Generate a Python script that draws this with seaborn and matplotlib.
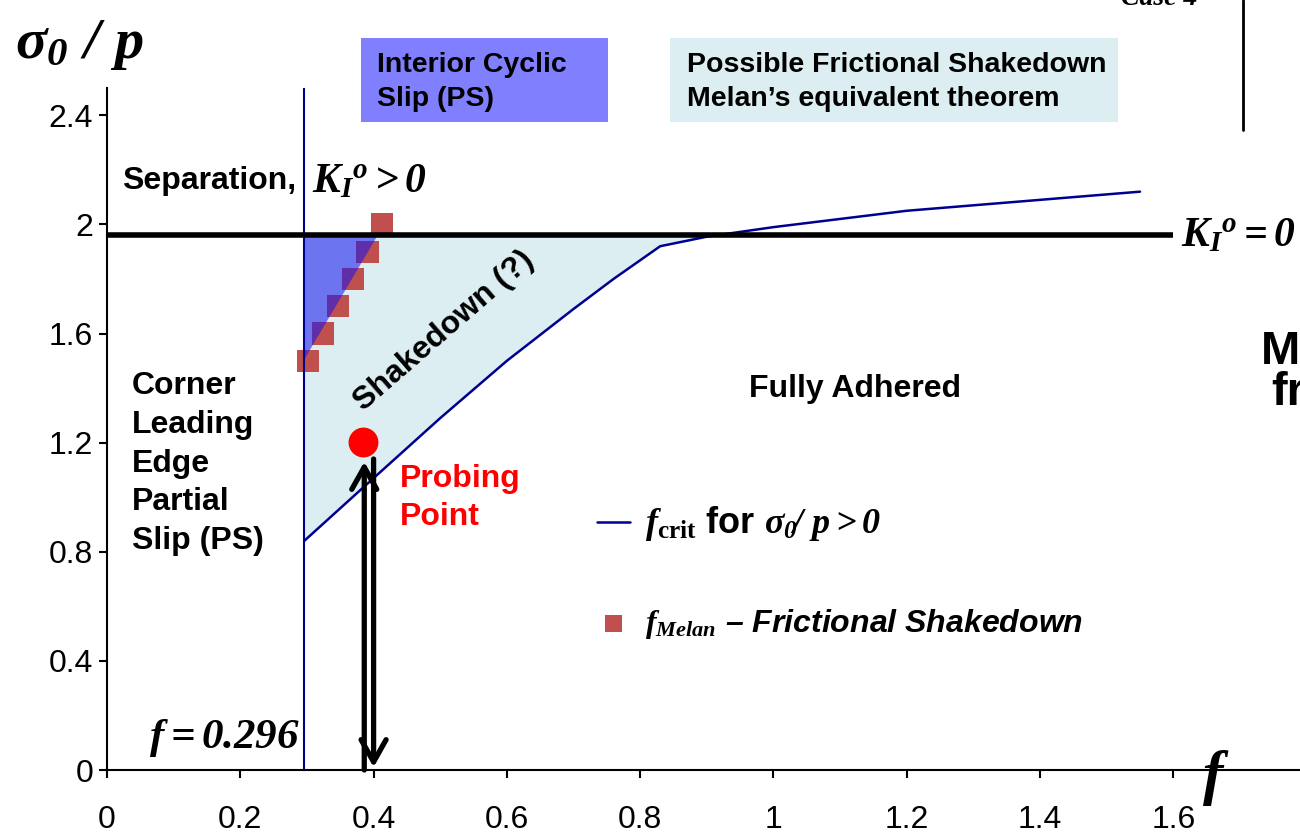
import numpy as np
import pandas as pd
import matplotlib
matplotlib.use("Agg")
import matplotlib.pyplot as plt
from matplotlib.patches import Rectangle
from matplotlib.lines import Line2D
import seaborn as sns

# ---------------------------------------------------------------
# data
# ---------------------------------------------------------------
crit_f = [0.296, 0.40, 0.50, 0.60, 0.70, 0.76, 0.83, 0.90, 1.00, 1.20, 1.40, 1.55]
crit_s = [0.84, 1.07, 1.29, 1.50, 1.69, 1.80, 1.92, 1.955, 1.99, 2.05, 2.09, 2.12]

melan_f = [0.302, 0.324, 0.347, 0.369, 0.391, 0.413]
melan_s = [1.5, 1.6, 1.7, 1.8, 1.9, 2.0]

# interior cyclic slip wedge (bottom vertex -> top of K_I=0 line)
wedge_s = [1.51, 1.96]
wedge_f = [0.296, 0.405]

f_min = 0.296          # f = 0.296 vertical line
k_zero = 1.96          # K_I^o = 0 line
probe_f, probe_s = 0.384, 1.204

xticks = [0, 0.2, 0.4, 0.6, 0.8, 1.0, 1.2, 1.4, 1.6]
xtick_labels = ["0", "0.2", "0.4", "0.6", "0.8", "1", "1.2", "1.4", "1.6"]
yticks = [0, 0.4, 0.8, 1.2, 1.6, 2.0, 2.4]
ytick_labels = ["0", "0.4", "0.8", "1.2", "1.6", "2", "2.4"]

crit_df = pd.DataFrame({"f": crit_f, "s": crit_s})
melan_df = pd.DataFrame({"f": melan_f, "s": melan_s})

# ---------------------------------------------------------------
# style
# ---------------------------------------------------------------
sns.set_theme(style="ticks")
plt.rcParams["font.family"] = ["Liberation Sans", "DejaVu Sans"]
plt.rcParams["text.color"] = "black"
plt.rcParams["xtick.color"] = "black"
plt.rcParams["ytick.color"] = "black"
plt.rcParams["mathtext.fontset"] = "custom"
plt.rcParams["mathtext.rm"] = "Liberation Serif:bold:italic"
plt.rcParams["mathtext.it"] = "Liberation Serif:bold:italic"
plt.rcParams["mathtext.bf"] = "Liberation Serif:bold"

navy = "#000090"
sq_red = "#C0504D"
light = "#DCEEF1"
slip_blue = "#8080FF"

fig = plt.figure(figsize=(13, 8.33), dpi=100)
ax = fig.add_axes([107 / 1300, 1 - 770 / 833, 1 - 107 / 1300, (770 - 88) / 833])

# shaded regions
ax.fill_between(crit_df["f"], crit_df["s"], k_zero,
                where=crit_df["s"] <= k_zero, interpolate=True,
                color=light, lw=0, zorder=1)
sns.scatterplot(data=melan_df, x="f", y="s", marker="s", s=256, color=sq_red,
                edgecolor="none", ax=ax, zorder=2,
                label=r"$f_{Melan}$ – Frictional Shakedown")
ax.fill_betweenx(wedge_s, [f_min, f_min], wedge_f, color="#1414F0",
                 alpha=0.56, lw=0, zorder=3)

# lines
sns.lineplot(data=crit_df, x="f", y="s", color=navy, lw=1.8, ax=ax, zorder=4,
             label=r"$f_{\mathbf{crit}}$ for $\sigma_0\!/\ p > 0$")
ax.axvline(f_min, color=navy, lw=1.5, zorder=4)
ax.hlines(k_zero, 0, 1.6, color="black", lw=4, zorder=5)

# probing point and arrows
ax.scatter([probe_f], [probe_s], s=420, color="#FF0000", zorder=6)
arrow_kw = dict(arrowstyle="->,head_length=0.8,head_width=0.45", lw=3.8,
                color="black", shrinkA=0, shrinkB=0, mutation_scale=20)
ax.annotate("", xy=(0.386, 1.13), xytext=(0.386, 0.0), arrowprops=arrow_kw, zorder=6)
ax.annotate("", xy=(0.400, 0.01), xytext=(0.400, 1.14), arrowprops=arrow_kw, zorder=6)

# axes
ax.set_xlim(0, 1.79)
ax.set_ylim(0, 2.5)
ax.set_xticks(xticks)
ax.set_xticklabels(xtick_labels)
ax.set_yticks(yticks)
ax.set_yticklabels(ytick_labels)
ax.set_xlabel("")
ax.set_ylabel("")
ax.tick_params(labelsize=23, length=6, width=1.5)
ax.tick_params(axis="x", pad=19)
ax.tick_params(axis="y", pad=4)
sns.despine(ax=ax)
for sp in ["left", "bottom"]:
    ax.spines[sp].set_color("black")
    ax.spines[sp].set_linewidth(1.5)

# legend: line first, squares second
h, l = ax.get_legend_handles_labels()
leg = ax.legend([h[1], h[0]], [l[1], l[0]], loc="upper left",
                bbox_to_anchor=(0.411, 0.39), frameon=False,
                fontsize=23, handlelength=1.03, handletextpad=0.45,
                labelspacing=2.0, borderpad=0, borderaxespad=0, markerscale=0.75)
for t in leg.get_texts():
    t.set_fontweight("bold")
leg.get_texts()[0].set_fontsize(26)
leg.get_texts()[1].set_fontstyle("italic")

# region labels
bold = dict(fontsize=23, fontweight="bold", color="black")
ax.text(0.0225, 2.159, "Separation,", ha="left", va="center", **bold)
ax.text(0.308, 2.159, r"$K_I{}^o > 0$", ha="left", va="center", fontsize=30)
ax.text(1.611, k_zero, r"$K_I{}^o = 0$", ha="left", va="center", fontsize=30,
        clip_on=False)
ax.text(0.0375, 1.123, "Corner\nLeading\nEdge\nPartial\nSlip (PS)", ha="left",
        va="center", linespacing=1.38, **bold)
ax.text(0.505, 1.61, "Shakedown (?)", rotation=41, ha="center", va="center",
        rotation_mode="anchor", **bold)
ax.text(1.123, 1.398, "Fully Adhered", ha="center", va="center", **bold)
ax.text(0.44, 0.997, "Probing\nPoint", ha="left", va="center", linespacing=1.38,
        fontsize=23, fontweight="bold", color="#FF0000")
ax.text(0.29, 0.117, r"$f = 0.296$", ha="right", va="center", fontsize=31)
ax.text(1.66, -0.03, "f", ha="center", va="center", fontsize=44,
        family="Liberation Serif", fontweight="bold", fontstyle="italic",
        clip_on=False)

fig.text(15 / 1300, 1 - 45 / 833, r"$\sigma_0\ /\ p$", ha="left", va="center",
         fontsize=42)

# boxes above the plot
fig.add_artist(Rectangle((361 / 1300, 1 - 122 / 833), 247 / 1300, 84 / 833,
                         transform=fig.transFigure, color=slip_blue, lw=0))
fig.text(377 / 1300, 1 - 82 / 833, "Interior Cyclic\nSlip (PS)", ha="left",
         va="center", linespacing=1.4, fontsize=20.5, fontweight="bold")
fig.add_artist(Rectangle((670 / 1300, 1 - 122 / 833), 448 / 1300, 84 / 833,
                         transform=fig.transFigure, color=light, lw=0))
fig.text(687 / 1300, 1 - 82 / 833,
         "Possible Frictional Shakedown\nMelan\u2019s equivalent theorem",
         ha="left", va="center", linespacing=1.4, fontsize=20.5, fontweight="bold")

# cut-off pieces at the slide edges
fig.text(1197 / 1300, 1 - 5 / 833, "Case 4", ha="right", va="baseline",
         fontsize=20, family="Liberation Serif", fontweight="bold",
         fontstyle="italic")
fig.add_artist(Line2D([1243 / 1300, 1243 / 1300], [1.0, 1 - 130 / 833],
                      transform=fig.transFigure, color="black", lw=2))
fig.text(1261 / 1300, 1 - 352 / 833, "M", ha="left", va="center",
         fontsize=34, fontweight="bold")
fig.text(1271 / 1300, 1 - 393 / 833, "fr", ha="left", va="center",
         fontsize=34, fontweight="bold")

fig.savefig("out.png", dpi=100)
